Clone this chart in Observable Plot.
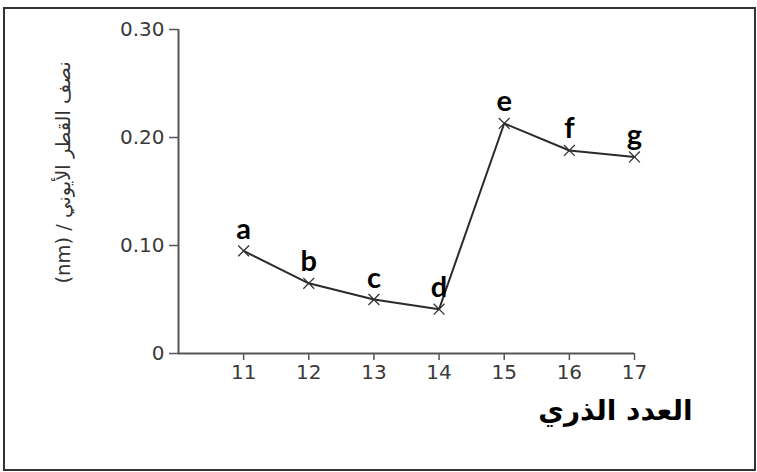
<!DOCTYPE html>
<html>
<head>
<meta charset="utf-8">
<script src="https://cdn.jsdelivr.net/npm/d3@7"></script>
<script src="https://cdn.jsdelivr.net/npm/@observablehq/plot@0.6"></script>
<style>
  html, body { margin: 0; padding: 0; background: #fff; }
  #wrap { position: relative; width: 757px; height: 472px; overflow: hidden; }
  #frame { position: absolute; left: 3px; top: 7px; width: 749px; height: 460px; border: 2px solid #333; pointer-events: none; }
</style>
</head>
<body>
<div id="wrap"><div id="frame"></div></div>
<script>
const atomicNumbers = [11, 12, 13, 14, 15, 16, 17];
const ionicRadius = [0.095, 0.065, 0.050, 0.041, 0.213, 0.188, 0.182];
const pointLabels = ["a", "b", "c", "d", "e", "f", "g"];
const xTicks = [11, 12, 13, 14, 15, 16, 17];
const yTicks = [0, 0.10, 0.20, 0.30];
const yTitle = "\u202Bنصف القطر الأيوني / (nm)\u202C";
const xTitle = "العدد الذري";

const data = atomicNumbers.map((z, i) => ({z, r: ionicRadius[i], label: pointLabels[i]}));

const chart = Plot.plot({
  width: 757,
  height: 472,
  marginLeft: 178,
  marginRight: 123,
  marginTop: 29,
  marginBottom: 119,
  style: {background: "transparent", fontFamily: "'DejaVu Sans', sans-serif", overflow: "visible"},
  x: {domain: [10, 17]},
  y: {domain: [0, 0.3]},
  marks: [
    Plot.ruleX([10], {y1: 0, y2: 0.3, stroke: "#555", strokeWidth: 2}),
    Plot.ruleY([0], {x1: 10, x2: 17, stroke: "#555", strokeWidth: 2}),
    Plot.axisY(yTicks, {
      tickSize: 9, tickPadding: 5, fontSize: 20, label: null,
      stroke: "#555", strokeWidth: 1.5, fill: "#3a3a3a",
      tickFormat: d => d === 0 ? "0" : d.toFixed(2)
    }),
    Plot.axisX(xTicks, {
      tickSize: 7, tickPadding: 4, fontSize: 20, label: null,
      stroke: "#555", strokeWidth: 1.5, fill: "#3a3a3a",
      tickFormat: d => String(d)
    }),
    Plot.line(data, {x: "z", y: "r", stroke: "#2a2a2a", strokeWidth: 2}),
    Plot.dot(data, {x: "z", y: "r", symbol: "times", r: 5, stroke: "#333", strokeWidth: 1.3}),
    Plot.text(data, {
      x: "z", y: "r", text: "label", dy: -12, lineAnchor: "bottom",
      fontSize: 29, fontWeight: "bold", fill: "#000",
      fontFamily: "Lato, 'Open Sans', sans-serif"
    }),
    Plot.text([yTitle], {
      frameAnchor: "left", dx: -115, dy: -19, rotate: -90,
      text: d => d, fontSize: 19.5, fill: "#333", textAnchor: "middle",
      fontFamily: "'DejaVu Sans', sans-serif"
    }),
    Plot.text([xTitle], {
      frameAnchor: "bottom-right", dx: 58, dy: 66, textAnchor: "end",
      text: d => d, fontSize: 28, fontWeight: "bold", fill: "#000",
      fontFamily: "'DejaVu Sans', sans-serif"
    })
  ]
});
document.getElementById("wrap").prepend(chart);
</script>
</body>
</html>
